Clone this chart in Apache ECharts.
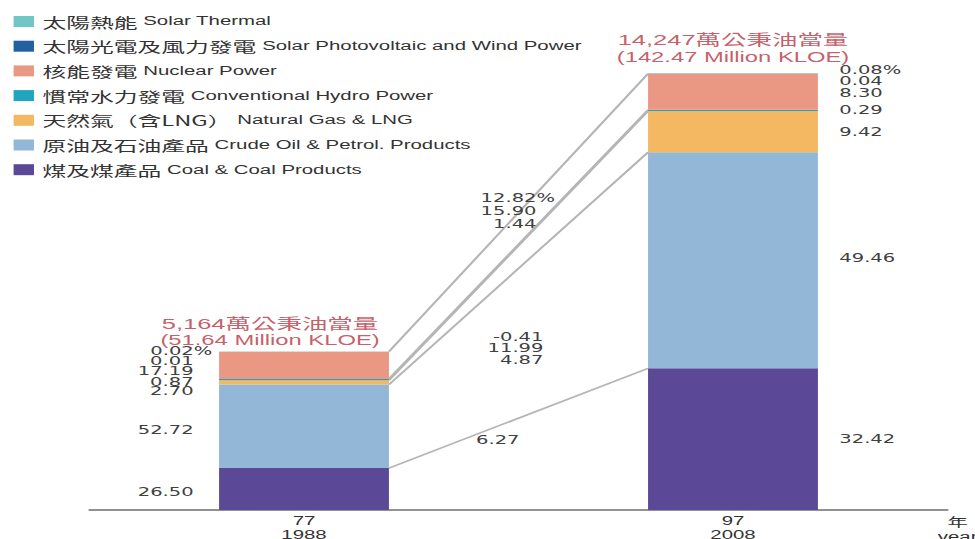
<!DOCTYPE html>
<html>
<head>
<meta charset="utf-8">
<title>能源供給結構 77 / 97 年</title>
<script src="https://cdn.jsdelivr.net/npm/echarts@6.0.0/dist/echarts.min.js"></script>
<style>
  html, body { margin: 0; padding: 0; background: #fff; overflow: hidden; }
  /* 原圖整張被橫向拉寬，這裡用 scaleX 模擬 */
  #main { width: 574px; height: 539px; transform: scaleX(1.6986); transform-origin: 0 0; }
</style>
</head>
<body>
<div id="main"></div>
<script>
// 年別
var years = ['77\n1988', '97\n2008'];
// 總供給 (百萬公秉油當量)
var totals = [51.64, 142.47];
var totalsWan = ['5,164', '14,247'];
// 能源別 (由下往上堆疊)
var sources = ['煤及煤產品', '原油及石油產品', '天然氣（含LNG）', '慣常水力發電', '核能發電', '太陽光電及風力發電', '太陽熱能'];
var sourcesEn = ['Coal & Coal Products', 'Crude Oil & Petrol. Products', 'Natural Gas & LNG', 'Conventional Hydro Power', 'Nuclear Power', 'Solar Photovoltaic and Wind Power', 'Solar Thermal'];
// 占比 %
var share1988 = [26.50, 52.72, 2.70, 0.87, 17.19, 0.01, 0.02];
var share2008 = [32.42, 49.46, 9.42, 0.29, 8.30, 0.04, 0.08];
// 平均年增率 %
var growth = [6.27, 4.87, 11.99, -0.41, 1.44, 15.90, 12.82];

var colors = ['#5b4896', '#93b7d7', '#f3b861', '#21a5bf', '#ea9784', '#22609f', '#72c6c6'];
var shares = [share1988, share2008];
var BAR_W = 100;
var numFont = 'DejaVu Sans';
var numColor = '#404040';
var titleColor = '#b8343f';

// 標籤微調 (擠在一起的小數值)
var nudge = [
  [[0, 3], [0, 4], [0, 9.1], [0, 2], [0, 6.2], [0, 9.8], [11, -0.6]],
  [[0, 0], [0, -2], [0, 0], [0, 0], [0, 1.6], [0, 7.5], [0, -3.5]]
];
var titleOffset = [[-20, 0], [0, 0]];
var titleGap = [3, 8];
// 年增率文字的位置 (y 軸數值, x 偏移)
var growthSpots = [
  {rows: [6, 5, 4], at: 97.5, dx: 10.6, gap: 13},
  {rows: [3, 2, 1], at: 52.8, dx: 14.7, gap: 11.5},
  {rows: [0], at: 22.8, dx: 0.6, gap: 0}
];

function fmt(v, i) {
  return v.toFixed(2) + (i === sources.length - 1 ? '%' : '');
}

function tops(k) {
  var s = 0;
  return shares[k].map(function (p) { s += totals[k] * p / 100; return s; });
}
var top1988 = tops(0);
var top2008 = tops(1);

var series = sources.map(function (name, i) {
  return {
    name: name,
    type: 'bar',
    stack: 'energy',
    barWidth: BAR_W,
    itemStyle: { color: colors[i] },
    label: {
      show: true,
      fontFamily: numFont,
      fontSize: 11.5,
      color: numColor,
      formatter: function (p) { return fmt(shares[p.dataIndex][i], i); }
    },
    data: totals.map(function (t, k) {
      return {
        value: t * shares[k][i] / 100,
        label: {
          position: k === 0 ? 'left' : 'right',
          distance: k === 0 ? 15 : 12.6,
          offset: nudge[k][i]
        }
      };
    })
  };
});

// 兩根柱子之間的連接線
series.push({
  type: 'custom',
  silent: true,
  z: 1,
  data: [0, 1, 2, 3, 4].map(function (i) { return [0, top1988[i], top2008[i]]; }),
  encode: { x: 0, y: [1, 2] },
  renderItem: function (params, api) {
    var a = api.coord([0, api.value(1)]);
    var b = api.coord([1, api.value(2)]);
    return {
      type: 'line',
      shape: { x1: a[0] + BAR_W / 2, y1: a[1], x2: b[0] - BAR_W / 2, y2: b[1] },
      style: { stroke: '#b5b5b5', lineWidth: 1.5 }
    };
  }
});

// 年增率
series.push({
  type: 'custom',
  silent: true,
  z: 5,
  data: growthSpots.map(function (g, k) { return [0, g.at, k]; }),
  encode: { x: 0, y: 1 },
  renderItem: function (params, api) {
    var g = growthSpots[api.value(2)];
    var a = api.coord([0, api.value(1)]);
    var b = api.coord([1, api.value(1)]);
    var x = (a[0] + b[0]) / 2 + g.dx;
    var children = [];
    g.rows.forEach(function (i, j) {
      var y = a[1] + (j - (g.rows.length - 1) / 2) * g.gap;
      var st = { x: x, y: y, verticalAlign: 'middle', fontFamily: numFont, fontSize: 11.5, fill: numColor };
      children.push({ type: 'text', style: Object.assign({ text: growth[i].toFixed(2), align: 'right' }, st) });
      if (i === sources.length - 1) {
        children.push({ type: 'text', style: Object.assign({ text: '%', align: 'left' }, st) });
      }
    });
    return { type: 'group', children: children };
  }
});

// 總量標題
series.push({
  type: 'scatter',
  symbolSize: 0,
  silent: true,
  z: 6,
  data: totals.map(function (t, k) {
    return { value: t, label: { offset: titleOffset[k], distance: titleGap[k] } };
  }),
  label: {
    show: true,
    position: 'top',
    formatter: function (p) {
      return '{a|' + totalsWan[p.dataIndex] + '萬公秉油當量}\n{b|(' + totals[p.dataIndex].toFixed(2) + ' Million KLOE)}';
    },
    rich: {
      a: { fontSize: 15, fontFamily: "'Liberation Sans', 'Noto Sans CJK TC'", color: titleColor, lineHeight: 17 },
      b: { fontSize: 14, fontFamily: "'Liberation Sans', 'Noto Sans CJK TC'", color: titleColor, lineHeight: 17 }
    }
  }
});

var myChart = echarts.init(document.getElementById('main'), null, { renderer: 'svg' });
myChart.setOption({
  animation: false,
  legend: {
    orient: 'vertical',
    left: 8,
    top: 14.5,
    padding: 0,
    itemWidth: 12,
    itemHeight: 11,
    itemGap: 10.7,
    icon: 'rect',
    selectedMode: false,
    data: sources.slice().reverse(),
    formatter: function (name) {
      return '{zh|' + name + '} {en|' + sourcesEn[sources.indexOf(name)] + '}';
    },
    textStyle: {
      color: '#333',
      rich: {
        zh: { fontSize: 14, fontFamily: 'Noto Sans CJK TC', color: '#333', lineHeight: 16 },
        en: { fontSize: 12, fontFamily: 'Liberation Sans', color: '#333', lineHeight: 16 }
      }
    }
  },
  grid: { left: 52.7, right: 16.2, top: 50, bottom: 29, outerBoundsMode: 'none' },
  xAxis: {
    type: 'category',
    data: years,
    axisLine: { lineStyle: { color: '#6e6e6e', width: 1.5 } },
    axisTick: { inside: true, length: 9, lineStyle: { color: '#333', width: 1.5 } },
    axisLabel: { color: '#333', fontSize: 12, fontFamily: 'Liberation Sans', lineHeight: 14, margin: 4 },
    name: '年\nyear',
    nameLocation: 'end',
    nameGap: 6,
    nameTextStyle: {
      color: '#333', fontSize: 12, lineHeight: 14,
      fontFamily: "'Liberation Sans', 'Noto Sans CJK TC'",
      align: 'center', verticalAlign: 'top', padding: [6, 0, 0, 0]
    }
  },
  yAxis: { type: 'value', min: 0, max: 150, show: false },
  series: series
});
</script>
</body>
</html>
